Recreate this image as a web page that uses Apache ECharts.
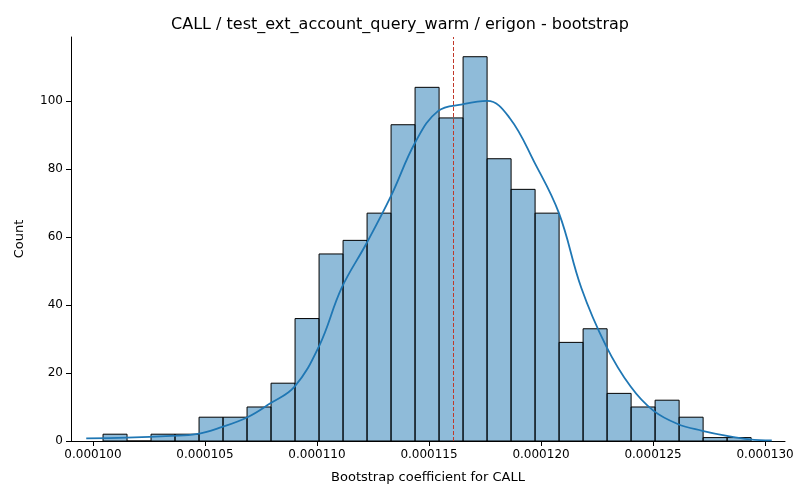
<!DOCTYPE html>
<html><head><meta charset="utf-8">
<script src="https://cdn.jsdelivr.net/npm/echarts@6/dist/echarts.min.js"></script>
<style>body{margin:0}#c{width:800px;height:500px}</style></head>
<body><div id="c"></div>
<script>
// values in units of 1e-6
var binStart = 100.45;
var binWidth = 1.0714;
var counts = [2,0,2,2,7,7,10,17,36,55,59,67,93,104,95,113,83,74,67,29,33,14,10,12,7,1,1];
var kdeX = [99.7,101.5,103.5,104.6,105.7,106.9,107.9,109.0,110.1,111.1,112.2,113.3,114.4,115.4,116.5,117.6,118.6,119.7,120.8,121.8,122.9,124.0,125.0,126.1,127.2,128.3,129.3,130.3];
var kdeY = [0.8,1,1.5,2,4,7,11,16,28,45,58,72,88,97,99,100,95,82,67,45,28,16,9,5,3,1.5,0.5,0.2];
var meanX = 116.07;
var xTicks = [100,105,110,115,120,125,130];

var bars = counts.map(function (c, i) { return [binStart + i * binWidth, binStart + (i + 1) * binWidth, c]; });
var font = "DejaVu Sans";
var chart = echarts.init(document.getElementById("c"));
chart.setOption({
  animation: false,
  title: { text: "CALL / test_ext_account_query_warm / erigon - bootstrap", left: "center", top: 12,
    textStyle: { fontFamily: font, fontSize: 16, fontWeight: "normal", color: "#000" } },
  grid: { left: 71, right: 15, top: 37, bottom: 59 },
  xAxis: {
    type: "value", min: 99.02, max: 130.89,
    name: "Bootstrap coefficient for CALL", nameLocation: "middle", nameGap: 30,
    nameTextStyle: { fontFamily: font, fontSize: 13, color: "#000" },
    axisLine: { onZero: false, lineStyle: { color: "#000" } },
    splitLine: { show: false },
    axisTick: { show: true, customValues: xTicks, lineStyle: { color: "#000" } },
    axisLabel: { customValues: xTicks, fontFamily: font, fontSize: 12, color: "#000",
      formatter: function (v) { return (v * 1e-6).toFixed(6); } }
  },
  yAxis: {
    type: "value", min: 0, max: 118.8, interval: 20,
    name: "Count", nameLocation: "middle", nameGap: 45,
    nameTextStyle: { fontFamily: font, fontSize: 13, color: "#000" },
    axisLine: { show: true, lineStyle: { color: "#000" } },
    axisTick: { show: true, lineStyle: { color: "#000" } },
    splitLine: { show: false },
    axisLabel: { fontFamily: font, fontSize: 12, color: "#000",
      showMaxLabel: false }
  },
  series: [{
    type: "custom", data: bars,
    renderItem: function (params, api) {
      var p0 = api.coord([api.value(0), api.value(2)]);
      var p1 = api.coord([api.value(1), 0]);
      return { type: "rect", shape: { x: p0[0], y: p0[1], width: p1[0] - p0[0], height: p1[1] - p0[1] },
        style: { fill: "rgba(31,119,180,0.5)", stroke: "#000", lineWidth: 1 } };
    },
    encode: { x: [0, 1], y: 2 }
  }, {
    type: "line", smooth: 0.4, symbol: "none",
    data: kdeX.map(function (x, i) { return [x, kdeY[i]]; }),
    lineStyle: { color: "#1f77b4", width: 1.8 },
    markLine: { silent: true, symbol: "none", label: { show: false },
      lineStyle: { color: "#c0392b", type: [4, 2], width: 1 },
      data: [{ xAxis: meanX }] }
  }]
});
</script></body></html>
